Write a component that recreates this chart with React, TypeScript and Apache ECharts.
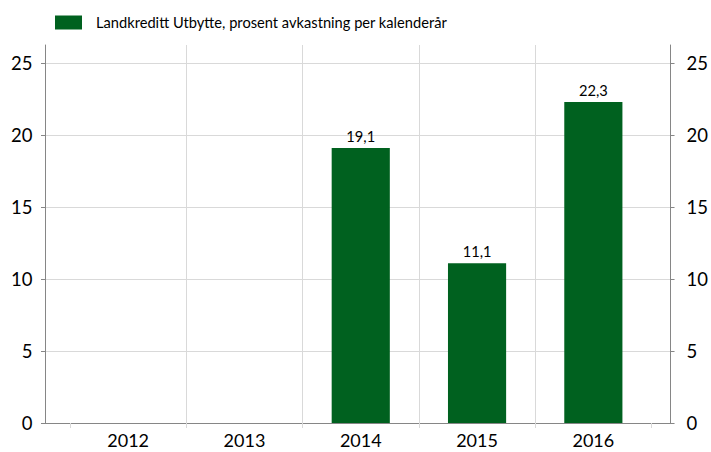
import React, { useEffect, useRef } from "react";
import * as echarts from "echarts";

const categories = ["2012", "2013", "2014", "2015", "2016"];
const values: (number | null)[] = [null, null, 19.1, 11.1, 22.3];
const seriesName = "Landkreditt Utbytte, prosent avkastning per kalenderår";
const yTicks = [0, 5, 10, 15, 20, 25];
const yMax = 26.25;

const FONT = "Lato, 'Noto Sans', sans-serif";
const GRID_COLOR = "#d9d9d9";
const AXIS_COLOR = "#868686";
const BAR_COLOR = "#00611f";

export default function App() {
  const ref = useRef<HTMLDivElement>(null);
  useEffect(() => {
    if (!ref.current) return;
    const chart = echarts.init(ref.current, null, { renderer: "svg" });
    const splitColors = yTicks.map(() => GRID_COLOR).concat(["rgba(0,0,0,0)"]);
    const vColors = [
      "rgba(0,0,0,0)",
      ...categories.slice(1).map(() => GRID_COLOR),
      "rgba(0,0,0,0)",
    ];
    chart.setOption({
      animation: false,
      textStyle: { fontFamily: FONT },
      legend: {
        show: true,
        left: 55,
        top: 15,
        padding: 0,
        itemWidth: 27,
        itemHeight: 14,
        icon: "rect",
        data: [seriesName],
        textStyle: { fontSize: 14.67, color: "#000", fontFamily: FONT, padding: [0, 0, 0, 9] },
      },
      grid: [
        { left: 45, right: 33.5, top: 45, bottom: 29, containLabel: false },
        { left: 70, right: 59.5, top: 45, bottom: 29, containLabel: false },
      ],
      xAxis: [
        {
          type: "value",
          gridIndex: 0,
          min: 0,
          max: 1,
          axisLine: { show: true, onZero: false, lineStyle: { color: AXIS_COLOR, width: 1 } },
          axisTick: { show: false },
          axisLabel: { show: false },
          splitLine: { show: false },
        },
        {
          type: "category",
          gridIndex: 1,
          data: categories,
          boundaryGap: true,
          axisLine: { show: false },
          axisTick: { show: true, length: 5, lineStyle: { color: GRID_COLOR } },
          axisLabel: { fontSize: 18, color: "#000", margin: 8, fontFamily: FONT },
          splitLine: { show: true, lineStyle: { color: vColors, width: 1 } },
        },
      ],
      yAxis: [
        {
          type: "value",
          gridIndex: 0,
          position: "left",
          min: 0,
          max: yMax,
          interval: 5,
          axisLine: { show: true, lineStyle: { color: AXIS_COLOR } },
          axisTick: { show: true, length: 4, customValues: yTicks, lineStyle: { color: AXIS_COLOR } },
          axisLabel: { fontSize: 18.5, color: "#000", margin: 12.5, customValues: yTicks, fontFamily: FONT },
          splitLine: { show: true, lineStyle: { color: splitColors } },
        },
        {
          type: "value",
          gridIndex: 0,
          position: "right",
          min: 0,
          max: yMax,
          interval: 5,
          axisLine: { show: true, lineStyle: { color: AXIS_COLOR } },
          axisTick: { show: true, length: 4, customValues: yTicks, lineStyle: { color: AXIS_COLOR } },
          axisLabel: { fontSize: 18.5, color: "#000", margin: 16, customValues: yTicks, fontFamily: FONT },
          splitLine: { show: false },
        },
        {
          type: "value",
          gridIndex: 1,
          min: 0,
          max: yMax,
          show: false,
          splitLine: { show: false },
        },
      ],
      series: [
        {
          name: seriesName,
          type: "bar",
          xAxisIndex: 1,
          yAxisIndex: 2,
          data: values,
          barWidth: "50%",
          itemStyle: { color: BAR_COLOR },
          label: {
            show: true,
            position: "top",
            distance: 4,
            fontSize: 14.67,
            color: "#000",
            fontFamily: FONT,
            formatter: (p: any) => (p.value == null ? "" : String(p.value).replace(".", ",")),
          },
        },
      ],
    });
    return () => chart.dispose();
  }, []);
  return <div ref={ref} style={{ width: 711, height: 452, position: "absolute", left: 0, top: 0 }} />;
}
